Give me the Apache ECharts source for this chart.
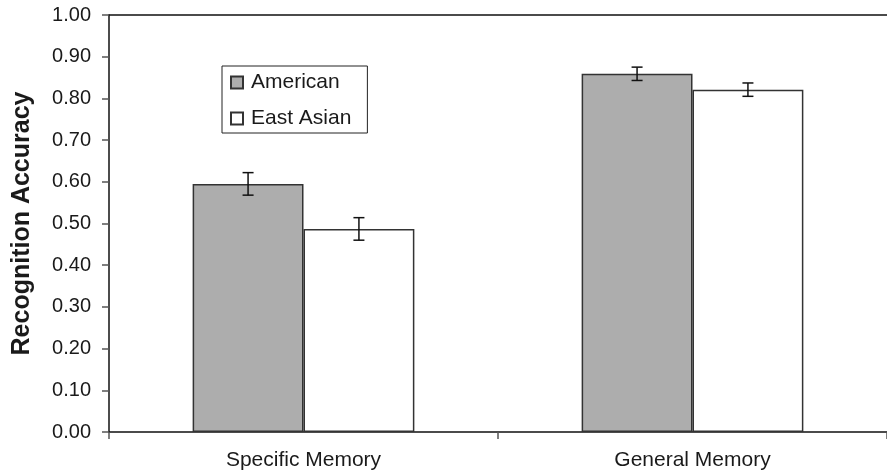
<!DOCTYPE html>
<html>
<head>
<meta charset="utf-8">
<script src="https://cdn.jsdelivr.net/npm/echarts@6/dist/echarts.min.js"></script>
<style>html,body{margin:0;padding:0;background:#fff;}#c{width:887px;height:473px;}</style>
</head>
<body>
<div id="c"></div>
<script>
var categories = ['Specific Memory', 'General Memory'];
var seriesNames = ['American', 'East Asian'];
var american = [0.595, 0.859];
var eastAsian = [0.487, 0.821];
var americanErr = [0.027, 0.016];
var eastAsianErr = [0.027, 0.016];

var FONT = 'Arial, "Liberation Sans", sans-serif';
var TXT = '#1a1a1a';
var GAP = 0.43;

function errSeries(vals, errs, side) {
  var data = vals.map(function (v, i) { return [i, v, errs[i]]; });
  return {
    type: 'custom',
    silent: true,
    z: 10,
    data: data,
    renderItem: function (params, api) {
      var i = api.value(0), v = api.value(1), e = api.value(2);
      var band = api.size([1, 0])[0];
      var bw = band * (1 - GAP) / 2;
      var c = api.coord([i, v]);
      var x = c[0] + side * bw / 2;
      var top = api.coord([i, v + e])[1];
      var bot = api.coord([i, v - e])[1];
      var cap = 5.5;
      var st = { stroke: '#111', lineWidth: 1.5 };
      return {
        type: 'group',
        children: [
          { type: 'line', shape: { x1: x, y1: top, x2: x, y2: bot }, style: st },
          { type: 'line', shape: { x1: x - cap, y1: top, x2: x + cap, y2: top }, style: st },
          { type: 'line', shape: { x1: x - cap, y1: bot, x2: x + cap, y2: bot }, style: st }
        ]
      };
    }
  };
}

var chart = echarts.init(document.getElementById('c'), null, { renderer: 'canvas' });
chart.setOption({
  animation: false,
  backgroundColor: '#fff',
  textStyle: { fontFamily: FONT, color: TXT },
  grid: { left: 109, right: 0, top: 15, bottom: 41 },
  legend: {
    orient: 'vertical',
    left: 222,
    top: 66,
    data: seriesNames,
    icon: 'rect',
    itemWidth: 12,
    itemHeight: 12,
    itemGap: 15,
    padding: [6, 16, 4, 8],
    borderColor: '#222',
    borderWidth: 1,
    backgroundColor: '#fff',
    textStyle: { fontFamily: FONT, fontSize: 21, color: TXT, padding: [0, 0, 0, 3] }
  },
  xAxis: [{
    type: 'category',
    data: categories,
    axisLine: { lineStyle: { color: '#111', width: 1.5 } },
    axisTick: { show: true, length: 7, lineStyle: { color: '#555', width: 1.5 } },
    axisLabel: { fontSize: 21, color: TXT, margin: 18, fontFamily: FONT },
    splitLine: { show: false }
  }, {
    type: 'category',
    data: categories,
    position: 'top',
    axisLine: { show: true, lineStyle: { color: '#111', width: 1.5 } },
    axisTick: { show: false },
    axisLabel: { show: false },
    splitLine: { show: false }
  }],
  yAxis: {
    type: 'value',
    min: 0,
    max: 1,
    interval: 0.1,
    name: 'Recognition Accuracy',
    nameLocation: 'middle',
    nameGap: 74,
    nameTextStyle: { fontSize: 25, fontWeight: 'bold', color: TXT, fontFamily: FONT },
    axisLine: { show: true, lineStyle: { color: '#111', width: 1.5 } },
    axisTick: { show: true, length: 7, lineStyle: { color: '#555', width: 1.5 } },
    axisLabel: { fontSize: 20, color: TXT, margin: 18, fontFamily: FONT,
      formatter: function (v) { return v.toFixed(2); } },
    splitLine: { show: false }
  },
  series: [
    {
      name: seriesNames[0], type: 'bar', data: american,
      barGap: '0%', barCategoryGap: (GAP * 100) + '%',
      itemStyle: { color: '#adadad', borderColor: '#333', borderWidth: 1.5 }
    },
    {
      name: seriesNames[1], type: 'bar', data: eastAsian,
      barGap: '0%', barCategoryGap: (GAP * 100) + '%',
      itemStyle: { color: '#ffffff', borderColor: '#333', borderWidth: 1.5 }
    },
    errSeries(american, americanErr, -1),
    errSeries(eastAsian, eastAsianErr, 1)
  ]
});
</script>
</body>
</html>
